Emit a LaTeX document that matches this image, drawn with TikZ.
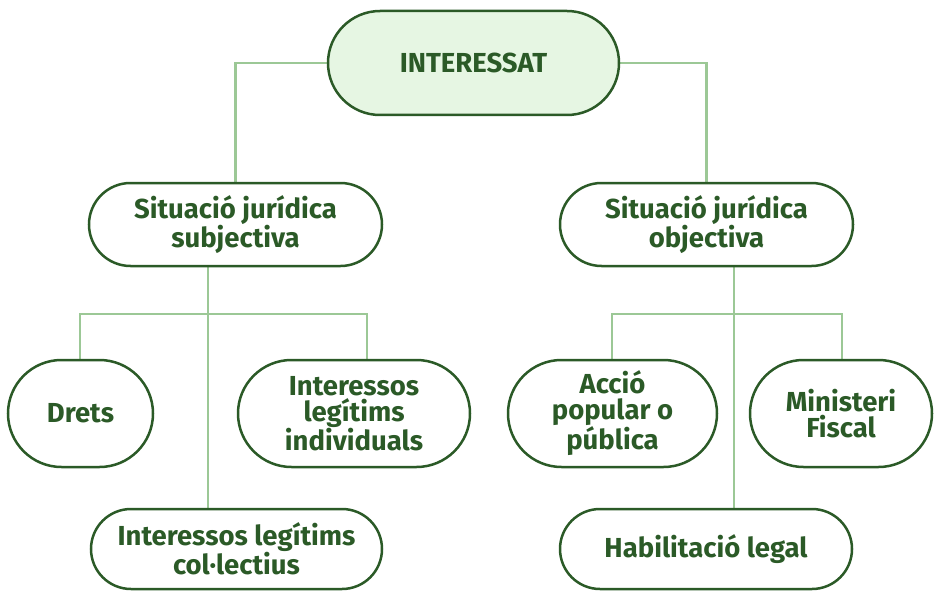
\documentclass[tikz,border=0pt]{standalone}
\usepackage{fontspec}
\setmainfont{Fira Sans}
\usetikzlibrary{backgrounds}
\definecolor{dkgreen}{HTML}{2B5A27}
\definecolor{ltfill}{HTML}{E6F6E3}
\definecolor{lnk}{HTML}{9CC896}
\tikzset{
  box/.style={draw=dkgreen, line width=2.5pt, fill=white, text=dkgreen,
    font=\fontsize{27.5}{26}\selectfont\bfseries, align=center, inner sep=0pt},
  conn/.style={draw=lnk, line width=2.8pt}
}
\begin{document}
\begin{tikzpicture}[x=1pt,y=-1pt]
\useasboundingbox (0,0) rectangle (934,591);
\node[box, fill=ltfill, minimum width=291, minimum height=104, rounded corners=52] (top) at (473.5,63) {INTERESSAT};
\node[box, minimum width=293, minimum height=83, rounded corners=41.5] (subj) at (235.5,224.5) {Situació jurídica\\subjectiva};
\node[box, minimum width=293, minimum height=83, rounded corners=41.5] (obj) at (706.5,224.5) {Situació jurídica\\objectiva};
\node[box, minimum width=145, minimum height=107, rounded corners=53.5] (drets) at (80.5,413.5) {Drets};
\node[box, minimum width=232, minimum height=107, rounded corners=53.5] (ind) at (354,413.5) {Interessos\\legítims\\individuals};
\node[box, minimum width=209, minimum height=107, rounded corners=53.5] (acc) at (612.5,413.5) {Acció\\popular o\\pública};
\node[box, minimum width=182, minimum height=107, rounded corners=53.5] (min) at (841,413.5) {Ministeri\\Fiscal};
\node[box, minimum width=291, minimum height=80, rounded corners=40] (col) at (236.5,549) {Interessos legítims\\col·lectius};
\node[box, minimum width=292, minimum height=80, rounded corners=40] (hab) at (706,549) {Habilitació legal};
\coordinate (lt) at (208,314);
\coordinate (ll) at (80,314);
\coordinate (lr) at (367,314);
\coordinate (rt) at (734,314);
\coordinate (rl) at (612,314);
\coordinate (rr) at (842,314);
\begin{scope}[on background layer]
\draw[conn] (top.west) -| (subj.north);
\draw[conn] (top.east) -| (obj.north);
\draw[conn] (lt |- subj.south) -- (lt |- col.north);
\draw[conn] (ll |- drets.north) -- (ll) -- (lr) -- (lr |- ind.north);
\draw[conn] (rt |- obj.south) -- (rt |- hab.north);
\draw[conn] (rl |- acc.north) -- (rl) -- (rr) -- (rr |- min.north);
\end{scope}
\end{tikzpicture}
\end{document}
